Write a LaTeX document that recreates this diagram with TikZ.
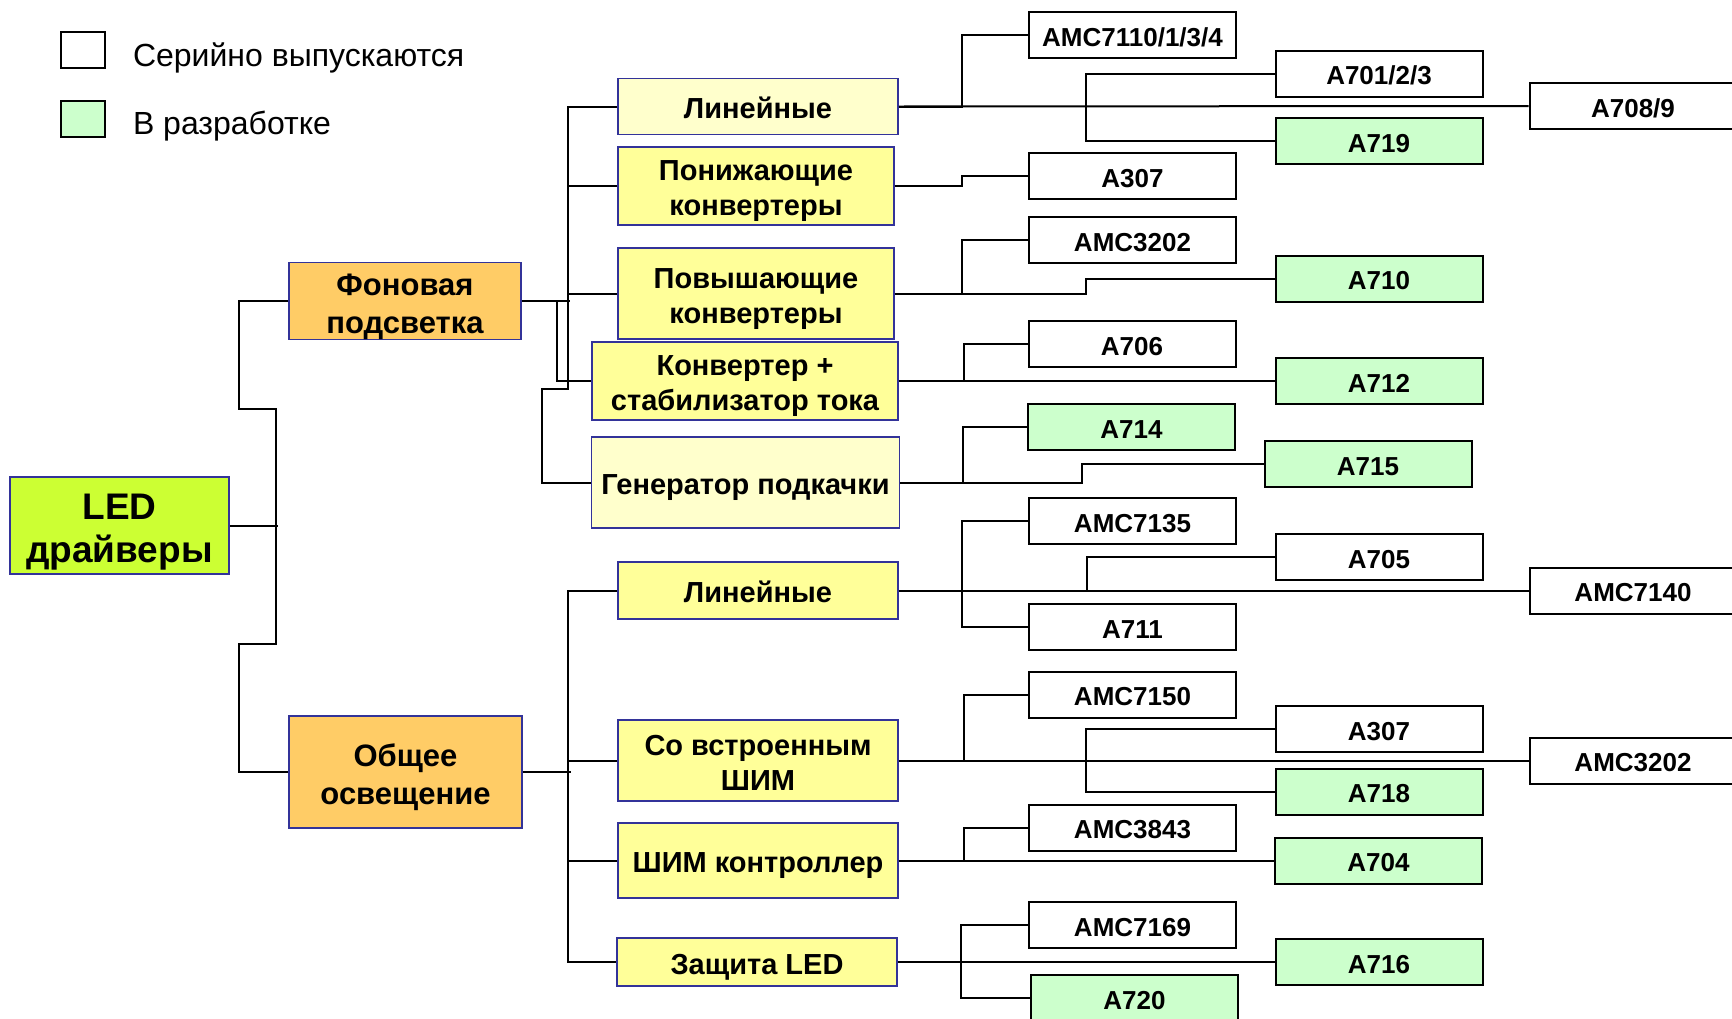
\documentclass[tikz,border=0pt]{standalone}
\usepackage{fontspec}
\setmainfont{Liberation Sans}
\definecolor{boxblue}{HTML}{333399}
\definecolor{ledlime}{HTML}{CCFF33}
\definecolor{catorange}{HTML}{FFCC66}
\definecolor{subyellow}{HTML}{FFFF99}
\definecolor{paleyellow}{HTML}{FFFFCC}
\definecolor{devgreen}{HTML}{CCFFCC}
\newcommand{\linetop}{\rule{0pt}{1.06em}}
\newcommand{\linebot}{\rule[-0.2em]{0pt}{0.2em}}

\begin{document}
\begin{tikzpicture}[x=1pt, y=-1pt, line width=2pt,
	rootbox/.style={draw=boxblue, line width=1.5pt, fill=ledlime, inner sep=0pt, align=center, font=\fontsize{37}{43}\selectfont\bfseries},
	catbox/.style={draw=boxblue, line width=1.5pt, fill=catorange, inner sep=0pt, align=center, font=\fontsize{31}{38}\selectfont\bfseries},
	subbox/.style={draw=boxblue, line width=1.5pt, fill=subyellow, inner sep=0pt, align=center, font=\fontsize{29}{35}\selectfont\bfseries},
	chip/.style={draw, line width=2pt, fill=white, inner sep=0pt, minimum width=207pt, minimum height=46pt, text height=27.6pt, text depth=5.2pt, font=\fontsize{26}{30}\selectfont\bfseries},
	newchip/.style={chip, fill=devgreen},
	keybox/.style={draw, line width=2pt, inner sep=0pt, minimum width=44pt, minimum height=36pt},
	keytext/.style={anchor=base west, inner sep=0pt, font=\fontsize{32}{38}\selectfont}]
	\useasboundingbox (0,0) rectangle (1732,1018);

	\node[keybox, fill=white] (serialkey) at (83,50) {};
	\node[keybox, fill=devgreen] (devkey) at (83,118.5) {};
	\node[keytext] (serialtext) at (132,66) {Серийно выпускаются};
	\node[keytext] (devtext) at (132,134) {В разработке};

	\node[rootbox, minimum width=219pt, minimum height=97pt] (led) at (119.5,525.5) {\linetop LED\\драйверы\linebot};
	\node[catbox, minimum width=232pt, minimum height=76pt] (backlight) at (405,301) {\linetop Фоновая\\подсветка\linebot};
	\node[catbox, minimum width=233pt, minimum height=112pt] (lighting) at (405.5,772) {\linetop Общее\\освещение\linebot};

	\node[subbox, fill=paleyellow, minimum width=280pt, minimum height=56pt] (linear) at (758,106.5) {\linetop Линейные\linebot};
	\node[subbox, minimum width=276pt, minimum height=78pt] (buck) at (756,186) {\linetop Понижающие\\конвертеры\linebot};
	\node[subbox, minimum width=276pt, minimum height=91pt] (boost) at (756,293.5) {\linetop Повышающие\\конвертеры\linebot};
	\node[subbox, minimum width=306pt, minimum height=78pt] (conv) at (745,381) {\linetop Конвертер +\\стабилизатор тока\linebot};
	\node[subbox, fill=paleyellow, minimum width=308pt, minimum height=91pt] (pump) at (745.5,482.5) {\linetop Генератор подкачки\linebot};
	\node[subbox, minimum width=280pt, minimum height=57pt] (linearb) at (758,590.5) {\linetop Линейные\linebot};
	\node[subbox, minimum width=280pt, minimum height=81pt] (pwm) at (758,760.5) {\linetop Со встроенным\\ШИМ\linebot};
	\node[subbox, minimum width=280pt, minimum height=75pt] (pwmctrl) at (758,860.5) {\linetop ШИМ контроллер\linebot};
	\node[subbox, minimum width=280pt, minimum height=48pt] (protect) at (757,962) {\linetop Защита LED\linebot};

	\node[chip] (amc7110) at (1132.5,35) {AMC7110/1/3/4};
	\node[chip] (a701) at (1379,73.5) {A701/2/3};
	\node[chip] (a708) at (1633,106) {A708/9};
	\node[newchip] (a719) at (1379,141) {A719};
	\node[chip] (a307) at (1132.5,176) {A307};
	\node[chip] (amc3202) at (1132.5,240) {AMC3202};
	\node[newchip] (a710) at (1379,278.5) {A710};
	\node[chip] (a706) at (1132,344) {A706};
	\node[newchip] (a712) at (1379,381) {A712};
	\node[newchip] (a714) at (1131.5,427) {A714};
	\node[newchip] (a715) at (1368,464) {A715};
	\node[chip] (amc7135) at (1132.5,521) {AMC7135};
	\node[chip] (a705) at (1379,557) {A705};
	\node[chip] (amc7140) at (1633,590.5) {AMC7140};
	\node[chip] (a711) at (1132.5,627) {A711};
	\node[chip] (amc7150) at (1132.5,694.5) {AMC7150};
	\node[chip] (a307b) at (1379,729) {A307};
	\node[chip] (amc3202b) at (1633,760.5) {AMC3202};
	\node[newchip] (a718) at (1379,791.5) {A718};
	\node[chip] (amc3843) at (1132.5,827.5) {AMC3843};
	\node[newchip] (a704) at (1378.5,860.5) {A704};
	\node[chip] (amc7169) at (1132.5,925) {AMC7169};
	\node[newchip] (a716) at (1379,962) {A716};
	\node[newchip] (a720) at (1134.5,998) {A720};

	\draw (led.east) -- ++(48,0);
	\draw (backlight.west) -- ++(-49,0) -- ++(0,108) -- ++(37,0) -- ++(0,235) -- ++(-37,0) |- (lighting.west);

	\draw (backlight.east) -- ++(48,0);
	\draw (linear.west) -- ++(-49,0) -- ++(0,282) -- ++(-26,0) |- (pump.west);
	\draw (buck.west) -- ++(-49,0);
	\draw (boost.west) -- ++(-49,0);
	\draw ([xshift=35pt]backlight.east) |- (conv.west);

	\draw (lighting.east) -- ++(48,0);
	\draw (linearb.west) -- ++(-49,0) |- (protect.west);
	\draw (pwm.west) -- ++(-49,0);
	\draw (pwmctrl.west) -- ++(-49,0);

	\draw (linear.east) -- (a708.west);
	\draw (amc7110.west) -- ++(-66,0) |- (linear.east);
	\draw (a701.west) -- ++(-189,0) |- (a719.west);
	\draw (buck.east) -- ++(67,0) |- (a307.west);
	\draw (boost.east) -- ++(67,0) |- (amc3202.west);
	\draw (boost.east) -- ++(191,0) |- (a710.west);
	\draw (conv.east) -- (a712.west);
	\draw (conv.east) -- ++(65,0) |- (a706.west);
	\draw (pump.east) -- ++(63,0) |- (a714.west);
	\draw (pump.east) -- ++(182,0) |- (a715.west);

	\draw (linearb.east) -- (amc7140.west);
	\draw (amc7135.west) -- ++(-66,0) |- (a711.west);
	\draw (linearb.east) -- ++(188,0) |- (a705.west);
	\draw (pwm.east) -- (amc3202b.west);
	\draw (pwm.east) -- ++(65,0) |- (amc7150.west);
	\draw (a307b.west) -- ++(-189,0) |- (a718.west);
	\draw (pwmctrl.east) -- (a704.west);
	\draw (pwmctrl.east) -- ++(65,0) |- (amc3843.west);
	\draw (protect.east) -- (a716.west);
	\draw (amc7169.west) -- ++(-67,0) |- (a720.west);
\end{tikzpicture}
\end{document}
